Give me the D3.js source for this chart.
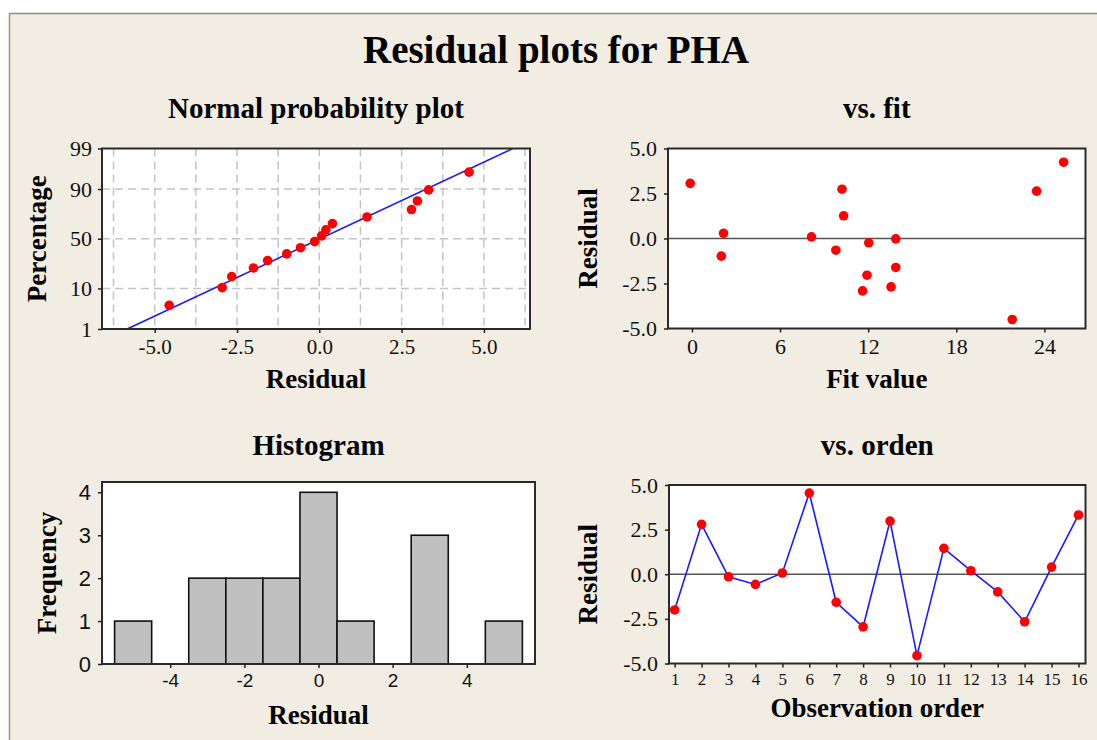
<!DOCTYPE html>
<html>
<head>
<meta charset="utf-8">
<script src="https://cdn.jsdelivr.net/npm/d3@7/dist/d3.min.js"></script>
<style>
  html, body { margin: 0; padding: 0; background: #ffffff; }
  svg { display: block; }
</style>
</head>
<body>
<svg id="chart" width="1097" height="740"></svg>
<script>
// ---- data ----------------------------------------------------------------
// residuals in observation order
const observation = [1, 2, 3, 4, 5, 6, 7, 8, 9, 10, 11, 12, 13, 14, 15, 16];
const residuals = [-2.0, 2.8, -0.14, -0.57, 0.07, 4.55, -1.57, -2.95, 2.98, -4.56, 1.45, 0.2, -0.99, -2.66, 0.4, 3.32];

// residuals against fitted values
const fitValues    = [-0.12, 2.15, 2.0, 8.14, 9.8, 10.22, 10.33, 12.04, 11.92, 11.62, 13.56, 13.88, 13.88, 21.81, 23.47, 25.31];
const fitResiduals = [3.06, 0.29, -0.98, 0.09, -0.65, 2.74, 1.26, -0.24, -2.04, -2.91, -2.69, -0.02, -1.61, -4.5, 2.63, 4.24];

// cumulative percentages of the ordered residuals (normal probability plot)
const probPercent = [4.3, 10.4, 16.5, 22.6, 28.7, 34.8, 40.9, 47.0, 53.0, 59.1, 65.2, 71.3, 77.4, 83.5, 89.6, 95.7];

// histogram of residuals (bin centres, width 1)
const histBins   = [-5, -4, -3, -2, -1, 0, 1, 2, 3, 4, 5];
const histCounts = [1, 0, 2, 2, 2, 4, 1, 0, 3, 0, 1];

// tick values
const normXTicks  = [-5, -2.5, 0, 2.5, 5];
const normXGrid   = [-6.25, -5, -3.75, -2.5, -1.25, 0, 1.25, 2.5, 3.75, 5, 6.25];
const normYTicks  = [1, 10, 50, 90, 99];
const residTicks  = [-5, -2.5, 0, 2.5, 5];
const fitXTicks   = [0, 6, 12, 18, 24];
const histXTicks  = [-4, -2, 0, 2, 4];
const histYTicks  = [0, 1, 2, 3, 4];

// ---- helpers ---------------------------------------------------------------
// inverse standard normal CDF (Acklam's rational approximation)
function qnorm(p) {
  const a = [-3.969683028665376e+01, 2.209460984245205e+02, -2.759285104469687e+02,
             1.383577518672690e+02, -3.066479806614716e+01, 2.506628277459239e+00];
  const b = [-5.447609879822406e+01, 1.615858368580409e+02, -1.556989798598866e+02,
             6.680131188771972e+01, -1.328068155288572e+01];
  const c = [-7.784894002430293e-03, -3.223964580411365e-01, -2.400758277161838e+00,
             -2.549671010114637e+00, 4.374664141464968e+00, 2.938163982698783e+00];
  const d = [7.784695709041462e-03, 3.224671290700398e-01, 2.445134137142996e+00,
             3.754408661907416e+00];
  const pl = 0.02425, ph = 1 - pl;
  let q, r;
  if (p < pl) {
    q = Math.sqrt(-2 * Math.log(p));
    return (((((c[0]*q+c[1])*q+c[2])*q+c[3])*q+c[4])*q+c[5]) / ((((d[0]*q+d[1])*q+d[2])*q+d[3])*q+1);
  }
  if (p <= ph) {
    q = p - 0.5; r = q * q;
    return (((((a[0]*r+a[1])*r+a[2])*r+a[3])*r+a[4])*r+a[5])*q / (((((b[0]*r+b[1])*r+b[2])*r+b[3])*r+b[4])*r+1);
  }
  q = Math.sqrt(-2 * Math.log(1 - p));
  return -(((((c[0]*q+c[1])*q+c[2])*q+c[3])*q+c[4])*q+c[5]) / ((((d[0]*q+d[1])*q+d[2])*q+d[3])*q+1);
}

const SERIF = "'Liberation Serif', 'Times New Roman', serif";
const SANS  = "'Liberation Sans', Arial, sans-serif";
const BG    = "#f1ede3";
const RED   = "#ff0000";
const BLUE  = "#1a1aff";

const svg = d3.select("#chart");

// frame
svg.append("rect").attr("x", 9).attr("y", 13).attr("width", 1097 - 9).attr("height", 740 - 13).attr("fill", BG);
svg.append("line").attr("x1", 9).attr("x2", 1097).attr("y1", 13.5).attr("y2", 13.5)
   .attr("stroke", "#8a8a8a").attr("stroke-width", 1.5);
svg.append("line").attr("x1", 9.5).attr("x2", 9.5).attr("y1", 13).attr("y2", 740)
   .attr("stroke", "#9a9870").attr("stroke-width", 1.5);

svg.append("text").attr("x", 556).attr("y", 63)
   .attr("text-anchor", "middle").attr("font-family", SERIF).attr("font-weight", "bold")
   .attr("font-size", 39).attr("fill", "#000").text("Residual plots for PHA");

// one panel: white plotting box, title, axis labels
function panel(box, title, titleY, xLabel, xLabelY, yLabel, yLabelX) {
  const g = svg.append("g");
  g.append("rect").attr("x", box.l).attr("y", box.t)
    .attr("width", box.r - box.l).attr("height", box.b - box.t).attr("fill", "#fff");
  const cx = (box.l + box.r) / 2;
  svg.append("text").attr("x", cx).attr("y", titleY).attr("text-anchor", "middle")
    .attr("font-family", SERIF).attr("font-weight", "bold").attr("font-size", 29).text(title);
  svg.append("text").attr("x", cx).attr("y", xLabelY).attr("text-anchor", "middle")
    .attr("font-family", SERIF).attr("font-weight", "bold").attr("font-size", 27).text(xLabel);
  const cy = (box.t + box.b) / 2;
  svg.append("text").attr("transform", `translate(${yLabelX},${cy}) rotate(-90)`)
    .attr("text-anchor", "middle").attr("font-family", SERIF).attr("font-weight", "bold")
    .attr("font-size", 27).text(yLabel);
  return g;
}

function frameBox(g, box) {
  g.append("rect").attr("x", box.l).attr("y", box.t)
    .attr("width", box.r - box.l).attr("height", box.b - box.t)
    .attr("fill", "none").attr("stroke", "#2a2a2a").attr("stroke-width", 2);
}

function styleAxis(sel, font, size) {
  sel.select(".domain").remove();
  sel.selectAll(".tick line").attr("stroke", "#222").attr("stroke-width", 1.5);
  sel.selectAll(".tick text").attr("font-family", font).attr("font-size", size).attr("fill", "#111");
}

// ---- normal probability plot ---------------------------------------------
{
  const box = { l: 102, r: 530, t: 148.5, b: 329 };
  const g = panel(box, "Normal probability plot", 118, "Residual", 388, "Percentage", 46);
  const x = d3.scaleLinear().domain([-6.6, 6.4]).range([box.l, box.r]);
  const y = d3.scaleLinear().domain([qnorm(0.01), qnorm(0.99)]).range([box.b, box.t]);

  // dashed grid
  g.selectAll(".vg").data(normXGrid).join("line")
    .attr("x1", d => x(d)).attr("x2", d => x(d)).attr("y1", box.t).attr("y2", box.b)
    .attr("stroke", "#c4c4c4").attr("stroke-width", 1.5).attr("stroke-dasharray", "8,5");
  g.selectAll(".hg").data(normYTicks.slice(1, -1)).join("line")
    .attr("x1", box.l).attr("x2", box.r).attr("y1", d => y(qnorm(d / 100))).attr("y2", d => y(qnorm(d / 100)))
    .attr("stroke", "#c4c4c4").attr("stroke-width", 1.5).attr("stroke-dasharray", "8,5");

  // fitted normal line from mean and standard deviation of the residuals
  const mu = d3.mean(residuals), sd = d3.deviation(residuals);
  const zLo = qnorm(0.01), zHi = qnorm(0.99);
  g.append("line")
    .attr("x1", x(mu + sd * zLo)).attr("y1", y(zLo))
    .attr("x2", x(mu + sd * zHi)).attr("y2", y(zHi))
    .attr("stroke", BLUE).attr("stroke-width", 1.6);

  const sorted = residuals.slice().sort(d3.ascending);
  g.selectAll(".pt").data(sorted).join("circle")
    .attr("cx", d => x(d)).attr("cy", (d, i) => y(qnorm(probPercent[i] / 100)))
    .attr("r", 4.8).attr("fill", RED);

  frameBox(g, box);

  const ax = svg.append("g").attr("transform", `translate(0,${box.b})`)
    .call(d3.axisBottom(x).tickValues(normXTicks).tickSize(4).tickPadding(6).tickFormat(d => d.toFixed(1)));
  styleAxis(ax, SERIF, 21);
  const yz = d3.scaleLinear().domain(y.domain()).range(y.range());
  const ay = svg.append("g").attr("transform", `translate(${box.l},0)`)
    .call(d3.axisLeft(yz).tickValues(normYTicks.map(p => qnorm(p / 100)))
      .tickSize(4).tickPadding(6).tickFormat((d, i) => String(normYTicks[i])));
  styleAxis(ay, SERIF, 22);
}

// ---- residuals versus fits -----------------------------------------------
{
  const box = { l: 668, r: 1085.5, t: 148.5, b: 328.5 };
  const g = panel(box, "vs. fit", 118, "Fit value", 388, "Residual", 597);
  const x = d3.scaleLinear().domain([-1.63, 26.8]).range([box.l, box.r]);
  const y = d3.scaleLinear().domain([-5, 5]).range([box.b, box.t]);

  g.append("line").attr("x1", box.l).attr("x2", box.r).attr("y1", y(0)).attr("y2", y(0))
    .attr("stroke", "#555").attr("stroke-width", 1.6);
  g.selectAll(".pt").data(fitValues).join("circle")
    .attr("cx", d => x(d)).attr("cy", (d, i) => y(fitResiduals[i]))
    .attr("r", 4.8).attr("fill", RED);
  frameBox(g, box);

  const ax = svg.append("g").attr("transform", `translate(0,${box.b})`)
    .call(d3.axisBottom(x).tickValues(fitXTicks).tickSize(4).tickPadding(6).tickFormat(d => String(d)));
  styleAxis(ax, SERIF, 22);
  const ay = svg.append("g").attr("transform", `translate(${box.l},0)`)
    .call(d3.axisLeft(y).tickValues(residTicks).tickSize(4).tickPadding(7).tickFormat(d => d.toFixed(1)));
  styleAxis(ay, SERIF, 22);
}

// ---- histogram ------------------------------------------------------------
{
  const box = { l: 102, r: 535, t: 482, b: 664 };
  const g = panel(box, "Histogram", 455, "Residual", 724, "Frequency", 56);
  const x = d3.scaleLinear().domain([-5.84, 5.84]).range([box.l, box.r]);
  const y = d3.scaleLinear().domain([0, 4.24]).range([box.b, box.t]);

  g.selectAll(".bar").data(histBins).join("rect")
    .attr("x", d => x(d - 0.5)).attr("width", d => x(d + 0.5) - x(d - 0.5))
    .attr("y", (d, i) => y(histCounts[i])).attr("height", (d, i) => y(0) - y(histCounts[i]))
    .attr("fill", "#c0c0c0").attr("stroke", "#111").attr("stroke-width", 1.6)
    .attr("display", (d, i) => histCounts[i] > 0 ? null : "none");
  frameBox(g, box);

  const ax = svg.append("g").attr("transform", `translate(0,${box.b})`)
    .call(d3.axisBottom(x).tickValues(histXTicks).tickSize(4).tickPadding(6).tickFormat(d => String(d)));
  styleAxis(ax, SANS, 19);
  const ay = svg.append("g").attr("transform", `translate(${box.l},0)`)
    .call(d3.axisLeft(y).tickValues(histYTicks).tickSize(4).tickPadding(7).tickFormat(d => String(d)));
  styleAxis(ay, SANS, 22);
}

// ---- residuals versus observation order -----------------------------------
{
  const box = { l: 669, r: 1085.5, t: 485, b: 663.5 };
  const g = panel(box, "vs. orden", 455, "Observation order", 717, "Residual", 597);
  const x = d3.scaleLinear().domain([0.79, 16.26]).range([box.l, box.r]);
  const y = d3.scaleLinear().domain([-5, 5]).range([box.b, box.t]);

  g.append("line").attr("x1", box.l).attr("x2", box.r).attr("y1", y(0)).attr("y2", y(0))
    .attr("stroke", "#555").attr("stroke-width", 1.6);
  const line = d3.line().x((d, i) => x(observation[i])).y(d => y(d));
  g.append("path").attr("d", line(residuals))
    .attr("fill", "none").attr("stroke", BLUE).attr("stroke-width", 1.6);
  g.selectAll(".pt").data(residuals).join("circle")
    .attr("cx", (d, i) => x(observation[i])).attr("cy", d => y(d))
    .attr("r", 4.8).attr("fill", RED);
  frameBox(g, box);

  const ax = svg.append("g").attr("transform", `translate(0,${box.b})`)
    .call(d3.axisBottom(x).tickValues(observation).tickSize(4).tickPadding(5).tickFormat(d => String(d)));
  styleAxis(ax, SERIF, 17);
  const ay = svg.append("g").attr("transform", `translate(${box.l},0)`)
    .call(d3.axisLeft(y).tickValues(residTicks).tickSize(4).tickPadding(7).tickFormat(d => d.toFixed(1)));
  styleAxis(ay, SERIF, 22);
}
</script>
</body>
</html>
